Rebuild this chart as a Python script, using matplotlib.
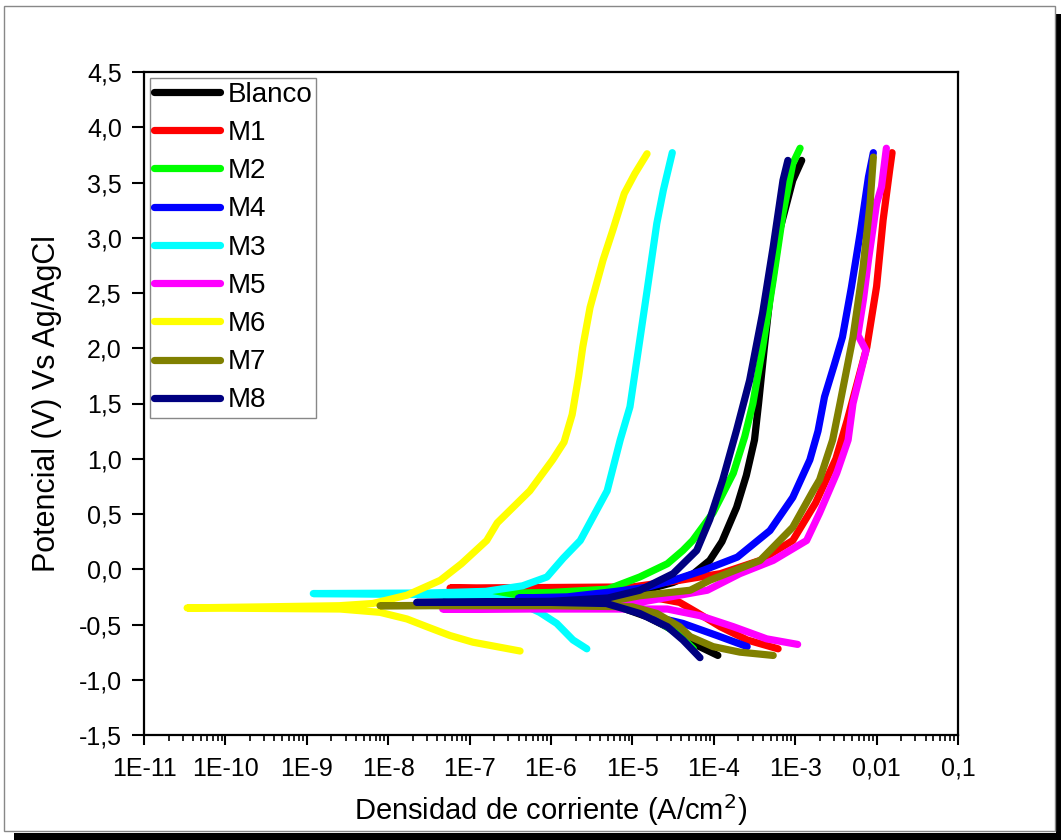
import matplotlib.pyplot as plt
import numpy as np
from matplotlib.patches import Rectangle
from matplotlib.ticker import LogLocator, FixedLocator, FuncFormatter, NullFormatter

plt.rcParams["font.family"] = ["Liberation Sans", "DejaVu Sans"]

# log10 of current density (A/cm2) and potential (V)
# each curve runs cathodic end -> tip (Ecorr) -> anodic end
blanco_logi = [-3.95, -4.26, -4.50, -4.82, -5.2, -6.0, -7.3,
               -6.0, -5.0, -4.50, -4.25, -4.05, -3.90, -3.72, -3.60, -3.50,
               -3.45, -3.38, -3.31, -3.19, -3.03, -2.92]
blanco_e = [-0.78, -0.67, -0.55, -0.43, -0.33, -0.30, -0.29,
            -0.28, -0.22, -0.12, -0.04, 0.08, 0.25, 0.56, 0.85, 1.17,
            1.5, 2.0, 2.46, 3.07, 3.52, 3.70]

m1_logi = [-3.21, -3.59, -3.92, -4.21, -4.42, -5.0, -6.0, -7.24,
           -6.0, -5.0, -4.42, -3.92, -3.43, -3.03, -2.75, -2.5, -2.36,
           -2.12, -2.0, -1.92, -1.84, -1.81]
m1_e = [-0.72, -0.64, -0.52, -0.39, -0.30, -0.22, -0.19, -0.17,
        -0.165, -0.16, -0.10, -0.04, 0.08, 0.26, 0.6, 1.0, 1.35,
        2.01, 2.56, 3.16, 3.61, 3.77]

m2_logi = [-4.25, -4.45, -4.8, -5.3, -6.0, -6.75,
           -6.0, -5.3, -4.91, -4.57, -4.38, -4.26, -4.01, -3.76, -3.62,
           -3.52, -3.40, -3.27, -3.15, -3.03, -2.94]
m2_e = [-0.72, -0.58, -0.42, -0.30, -0.25, -0.22,
        -0.21, -0.18, -0.07, 0.05, 0.17, 0.26, 0.51, 0.87, 1.2,
        1.5, 2.01, 2.62, 3.22, 3.67, 3.81]

m4_logi = [-3.59, -3.96, -4.38, -4.78, -5.2, -5.8, -6.4,
           -5.8, -5.2, -4.8, -4.50, -4.13, -3.71, -3.31, -3.03, -2.82,
           -2.72, -2.64, -2.52, -2.42, -2.31, -2.20, -2.10, -2.04]
m4_e = [-0.70, -0.60, -0.49, -0.42, -0.33, -0.28, -0.26,
        -0.25, -0.20, -0.16, -0.10, -0.01, 0.11, 0.35, 0.65, 0.99,
        1.25, 1.56, 1.85, 2.10, 2.55, 3.05, 3.55, 3.77]

m3_logi = [-5.56, -5.73, -5.93, -6.14, -6.40, -6.78, -7.5, -8.92,
           -7.5, -6.8, -6.35, -6.05, -5.85, -5.64, -5.31, -5.15, -5.03,
           -4.91, -4.82, -4.70, -4.62, -4.51]
m3_e = [-0.72, -0.64, -0.49, -0.39, -0.30, -0.25, -0.23, -0.22,
        -0.215, -0.20, -0.15, -0.07, 0.10, 0.26, 0.71, 1.17, 1.47,
        2.07, 2.52, 3.13, 3.43, 3.77]

m5_logi = [-2.97, -3.35, -3.76, -4.17, -4.57, -5.5, -7.33,
           -5.5, -4.91, -4.08, -3.68, -3.27, -2.86, -2.70, -2.49, -2.35,
           -2.29, -2.13, -2.23, -2.16, -2.10, -2.00, -1.94, -1.88]
m5_e = [-0.68, -0.63, -0.52, -0.42, -0.36, -0.36, -0.36,
        -0.35, -0.30, -0.19, -0.04, 0.08, 0.26, 0.51, 0.87, 1.17,
        1.50, 1.98, 2.12, 2.45, 2.80, 3.31, 3.46, 3.81]

m6_logi = [-6.38, -6.96, -7.24, -7.49, -7.77, -8.10, -8.59, -9.5, -10.47,
           -9.5, -8.6, -8.19, -7.77, -7.36, -7.1, -6.79, -6.66, -6.26,
           -5.98, -5.84, -5.74, -5.66, -5.61, -5.52, -5.36, -5.24, -5.10,
           -4.97, -4.82]
m6_e = [-0.74, -0.66, -0.60, -0.53, -0.45, -0.39, -0.36, -0.355, -0.35,
        -0.34, -0.33, -0.31, -0.235, -0.10, 0.05, 0.26, 0.42, 0.71,
        0.99, 1.15, 1.40, 1.75, 2.01, 2.37, 2.80, 3.07, 3.40,
        3.58, 3.76]

m7_logi = [-3.27, -3.68, -4.01, -4.29, -4.42, -4.70, -5.0, -6.0, -8.10,
           -6.0, -5.2, -4.91, -4.29, -4.05, -3.43, -3.03, -2.78, -2.70,
           -2.54, -2.45, -2.29, -2.17, -2.08, -2.04]
m7_e = [-0.78, -0.75, -0.70, -0.61, -0.52, -0.40, -0.34, -0.33, -0.33,
        -0.32, -0.28, -0.24, -0.19, -0.10, 0.08, 0.38, 0.71, 0.81,
        1.17, 1.50, 2.10, 2.71, 3.31, 3.73]

m8_logi = [-4.17, -4.38, -4.57, -4.91, -5.32, -6.0, -7.65,
           -6.0, -5.3, -4.91, -4.50, -4.21, -4.05, -3.89, -3.72, -3.56,
           -3.40, -3.27, -3.15, -3.09]
m8_e = [-0.80, -0.64, -0.52, -0.40, -0.31, -0.30, -0.30,
        -0.29, -0.26, -0.19, -0.04, 0.17, 0.45, 0.81, 1.26, 1.71,
        2.32, 2.92, 3.52, 3.70]

labels = ["Blanco", "M1", "M2", "M4", "M3", "M5", "M6", "M7", "M8"]
colors = ["#000000", "#ff0000", "#00ff00", "#0000ff", "#00ffff",
          "#ff00ff", "#ffff00", "#808000", "#000080"]
series_logi = [blanco_logi, m1_logi, m2_logi, m4_logi, m3_logi,
               m5_logi, m6_logi, m7_logi, m8_logi]
series_e = [blanco_e, m1_e, m2_e, m4_e, m3_e, m5_e, m6_e, m7_e, m8_e]

xtick_vals = [1e-11, 1e-10, 1e-9, 1e-8, 1e-7, 1e-6, 1e-5, 1e-4, 1e-3, 1e-2, 1e-1]
xtick_labels = ["1E-11", "1E-10", "1E-9", "1E-8", "1E-7", "1E-6", "1E-5",
                "1E-4", "1E-3", "0,01", "0,1"]

W, H = 1061, 840
fig = plt.figure(figsize=(W / 100, H / 100), dpi=100)

# outer frame with drop shadow
fig.patches.append(Rectangle((14 / W, 0), (W - 14) / W, 7 / H, transform=fig.transFigure,
                             facecolor="black", edgecolor="none", zorder=0))
fig.patches.append(Rectangle((1056 / W, 0), 5 / W, (H - 14) / H, transform=fig.transFigure,
                             facecolor="black", edgecolor="none", zorder=0))
fig.patches.append(Rectangle((4 / W, 1 - 831 / H), 1051 / W, 825 / H, transform=fig.transFigure,
                             facecolor="white", edgecolor="#888888", linewidth=1, zorder=1))

ax = fig.add_axes([144 / W, 1 - 735 / H, (958 - 144) / W, (735 - 72) / H])
ax.set_zorder(2)

for logi, e, lab, col in zip(series_logi, series_e, labels, colors):
    ax.plot(np.power(10.0, logi), e, color=col, linewidth=5.2, label=lab,
            solid_capstyle="round", solid_joinstyle="round")

ax.set_xscale("log")
ax.set_xlim(1e-11, 1e-1)
ax.set_ylim(-1.5, 4.5)

ax.xaxis.set_major_locator(FixedLocator(xtick_vals))
ax.set_xticklabels(xtick_labels)
ax.xaxis.set_minor_locator(LogLocator(base=10, subs=np.arange(2, 10), numticks=100))
ax.xaxis.set_minor_formatter(NullFormatter())
ax.set_yticks(np.arange(-1.5, 4.51, 0.5))
ax.yaxis.set_major_formatter(FuncFormatter(lambda v, p: f"{v:.1f}".replace(".", ",")))

ax.tick_params(axis="x", which="major", direction="out", length=7.5, width=1.5,
               labelsize=18, top=False, pad=8)
ax.tick_params(axis="y", which="major", direction="out", length=9, width=1.5,
               labelsize=18, right=False, pad=7)
ax.tick_params(axis="x", which="minor", direction="out", length=4.5, width=1.2,
               top=False)
for s in ax.spines.values():
    s.set_linewidth(1.6)

ax.set_xlabel("Densidad de corriente (A/cm$^2$)", fontsize=21, labelpad=8)
ax.set_ylabel("Potencial (V) Vs Ag/AgCl", fontsize=22, labelpad=12)

leg = ax.legend(loc="upper left", fontsize=20, frameon=True, fancybox=False,
                edgecolor="#888888", framealpha=1, borderaxespad=0.2,
                borderpad=0.15, labelspacing=0.44, handlelength=2.4,
                handletextpad=0.25)
leg.get_frame().set_linewidth(1)

plt.savefig("out.png", dpi=100)
